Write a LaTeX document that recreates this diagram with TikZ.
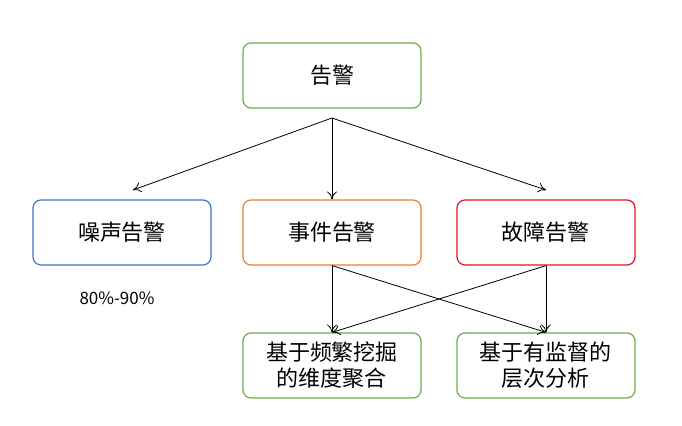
\documentclass[tikz,border=0pt]{standalone}
\usepackage{fontspec}
\setmainfont{Noto Sans CJK SC}
\usetikzlibrary{arrows.meta, positioning}
\definecolor{boxgreen}{RGB}{112,173,71}
\definecolor{boxblue}{RGB}{68,114,196}
\definecolor{boxorange}{RGB}{237,125,49}
\definecolor{boxred}{RGB}{220,20,40}
\tikzset{
    box/.style={draw=#1, rounded corners=4pt, minimum width=89pt, minimum height=32.5pt,
        align=center, font=\fontsize{11}{13}\selectfont, inner sep=1pt, line width=0.6pt},
    box/.default={boxgreen},
    link/.style={-{To[length=4pt,width=5pt]}, line width=0.4pt}
}
\begin{document}
\begin{tikzpicture}[x=0.5pt, y=-0.5pt]
    \useasboundingbox (0,0) rectangle (682,426);
    \node[box] (alarm) at (332,75.5) {告警};
    \node[box=boxblue] (noise) at (122,232.5) {噪声告警};
    \node[box=boxorange] (event) at (332,232.5) {事件告警};
    \node[box=boxred] (fault) at (546,232.5) {故障告警};
    \node[box] (mining) at (332,365.5) {基于频繁挖掘\\的维度聚合};
    \node[box] (super) at (546,365.5) {基于有监督的\\层次分析};
    \node[font=\fontsize{8.5}{10}\selectfont] (ratio) at (117,298) {80\%-90\%};
    \coordinate (split) at (332,118);
    \draw[link] (split) -- (133,190);
    \draw[link] (split) -- (event.north);
    \draw[link] (split) -- (546,190);
    \draw[link] (event.south) -- (mining.north);
    \draw[link] (event.south) -- (super.north);
    \draw[link] (fault.south) -- (super.north);
    \draw[link] (fault.south) -- (mining.north);
\end{tikzpicture}
\end{document}
